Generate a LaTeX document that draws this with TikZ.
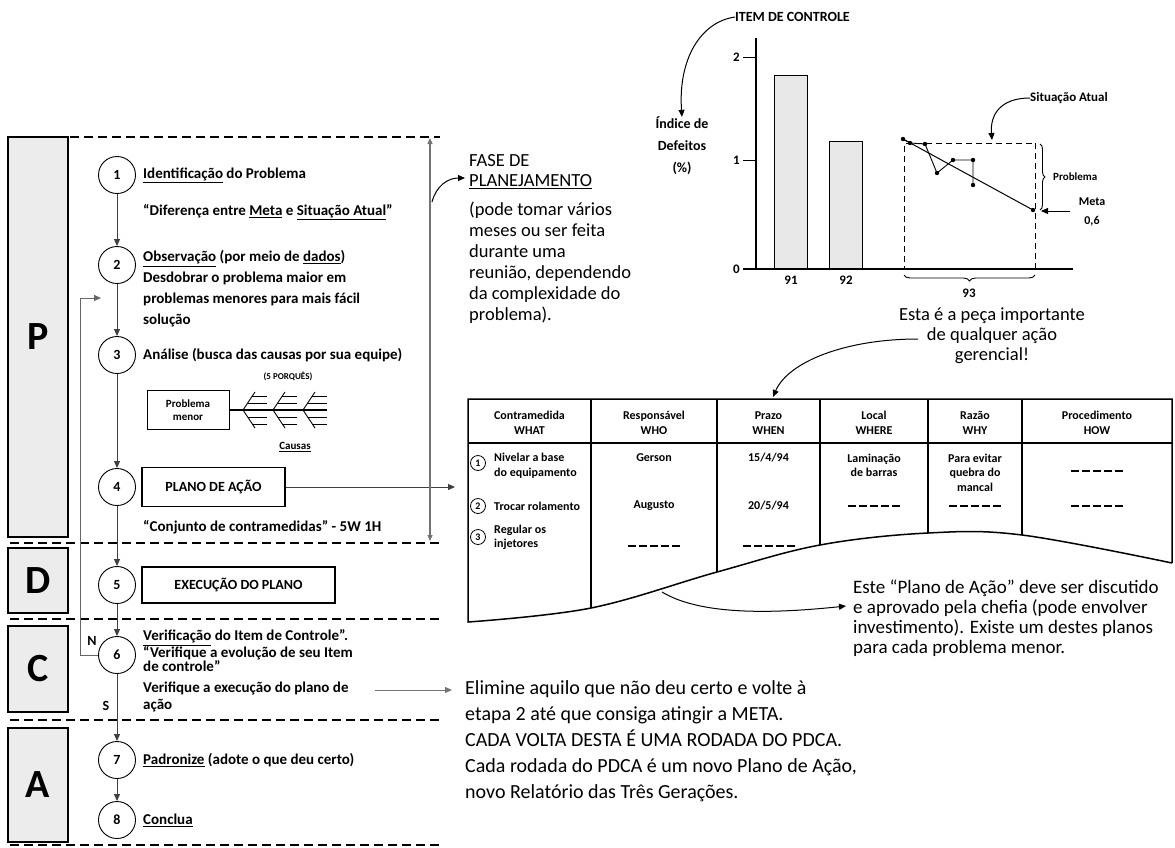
\documentclass[tikz,border=0pt]{standalone}
\usepackage{fontspec}
\setmainfont{Carlito}
\usetikzlibrary{arrows.meta,decorations.pathreplacing,positioning}

\tikzset{
  phase/.style={draw, line width=1.2pt, fill=gray!15, minimum width=60pt, inner sep=0pt,
    font=\fontsize{40}{40}\selectfont\bfseries},
  stepnum/.style={circle, draw, line width=0.9pt, minimum size=37pt, inner sep=0pt,
    fill=white, font=\fontsize{14}{14}\selectfont\bfseries},
  stepbox/.style={draw, line width=1.1pt, inner sep=0pt,
    font=\fontsize{14}{14}\selectfont\bfseries},
  steptxt/.style={anchor=west, inner sep=0pt, align=left,
    font=\fontsize{15}{21}\selectfont\bfseries},
  note/.style={anchor=west, inner sep=0pt, align=left},
  cell/.style={inner sep=0pt, align=center, font=\fontsize{12}{14.5}\selectfont\bfseries},
  rownum/.style={circle, draw, line width=0.8pt, minimum size=15pt, inner sep=0pt,
    font=\fontsize{10}{10}\selectfont\bfseries},
  chart/.style={inner sep=0pt, font=\fontsize{13}{13}\selectfont\bfseries},
  sep/.style={dash pattern=on 9pt off 5pt, line width=1.1pt},
  flow/.style={draw=black!75, line width=1pt, -{Triangle[length=7pt,width=6pt]}},
  blank/.style={dash pattern=on 8pt off 3pt, line width=1.6pt},
}

\begin{document}
\begin{tikzpicture}[x=1pt, y=-1pt]
\useasboundingbox (0,0) rectangle (1175,847);

% fases do PDCA
\node[phase, minimum height=400pt] (P) at (38,337) {P};
\node[phase, minimum height=65pt] (D) at (38,580.5) {D};
\node[phase, minimum height=86pt] (C) at (38,669) {C};
\node[phase, minimum height=114pt] (A) at (38,785) {A};
\foreach \y/\x in {137/70, 543/10, 619/10, 720/10, 845/10}
  \draw[sep] (\x,\y) -- (440,\y);

% etapas
\foreach \n/\y in {1/175, 2/265, 3/355, 4/487, 5/585, 6/655, 7/760, 8/820}
  \node[stepnum] (s\n) at (117,\y) {\n};
\foreach \a/\b in {1/2, 2/3, 3/4, 4/5, 5/6, 6/7, 7/8}
  \draw[flow] (s\a) -- (s\b);
\coordinate (loopa) at (80,655);
\coordinate (loopb) at (80,298);
\coordinate (loopc) at (101,298);
\draw[flow, draw=black!60] (s6.west) -- (loopa) -- (loopb) -- (loopc);
\node[font=\fontsize{14}{14}\selectfont\bfseries] (nlab) at (92,641) {N};
\node[font=\fontsize{14}{14}\selectfont\bfseries] (slab) at (106,706) {S};

\node[steptxt] (t1) at (143,175) {\underline{Identificação} do Problema};
\node[steptxt] (t1b) at (143,212) {“Diferença entre \underline{Meta} e \underline{Situação Atual}”};
\node[steptxt] (t2) at (143,289) {\underline{Observação} (por meio de \underline{dados})\\
  Desdobrar o problema maior em\\problemas menores para mais fácil\\solução};
\node[steptxt] (t3) at (143,355) {Análise (busca das causas por sua equipe)};
\node[font=\fontsize{9}{9}\selectfont\bfseries] (why) at (288,376) {(5 PORQUÊS)};

% espinha de peixe
\node[draw, line width=1pt, minimum width=82pt, minimum height=39pt, align=center,
  font=\fontsize{11}{13}\selectfont\bfseries] (minor) at (188,410) {Problema\\menor};
\coordinate (spine) at (327,410);
\draw[line width=1.3pt] (minor.east) -- (spine);
\foreach \x in {243,273,303} {
  \draw[line width=0.9pt] (\x+12,392) -- (\x,410) -- (\x+12,428);
  \foreach \yy/\dx in {396/9.3, 403/4.7, 417/4.7, 424/9.3}
    \draw[line width=0.9pt] (\x+\dx,\yy) -- (\x+24,\yy);
}
\node[font=\fontsize{11}{11}\selectfont\bfseries] (causes) at (295,447) {\underline{Causas}};

\node[stepbox, minimum width=143pt, minimum height=39pt] (plan) at (213.5,487) {PLANO DE AÇÃO};
\coordinate (planend) at (455,487);
\draw[flow] (plan) -- (planend);
\node[steptxt] (t4) at (143,527) {“Conjunto de contramedidas” - 5W 1H};
\node[stepbox, minimum width=193pt, minimum height=36pt] (exec) at (238.5,585) {EXECUÇÃO DO PLANO};
\node[steptxt, font=\fontsize{15}{14.5}\selectfont\bfseries] (t6) at (143,651)
  {\underline{Verificação} do Item de Controle”.\\“Verifique a evolução de seu Item\\de controle”};
\node[steptxt, font=\fontsize{15}{17}\selectfont\bfseries] (t6b) at (143,697)
  {Verifique a execução do plano de\\ação};
\coordinate (chka) at (375,690);
\coordinate (chkb) at (452,690);
\draw[flow, draw=black!55] (chka) -- (chkb);
\node[steptxt] (t7) at (143,760) {\underline{Padronize} (adote o que deu certo)};
\node[steptxt] (t8) at (143,820) {\underline{Conclua}};

% fase de planejamento
\coordinate (ptop) at (430,138);
\coordinate (pbot) at (430,541);
\draw[draw=black!55, line width=1.2pt,
  {Triangle[length=6pt,width=5pt]}-{Triangle[length=6pt,width=5pt]}] (ptop) -- (pbot);
\node[note, font=\fontsize{18.5}{20}\selectfont] (fase) at (469,172) {FASE DE\\\underline{PLANEJAMENTO}};
\node[note, font=\fontsize{18.5}{21}\selectfont] (fasetxt) at (469,262.5)
  {(pode tomar vários\\meses ou ser feita\\durante uma\\reunião, dependendo\\da complexidade do\\problema).};
\coordinate (pmid) at (432,202);
\coordinate (faseend) at (465,178);
\draw[flow, draw=black] (pmid) .. controls (436,186) and (448,178) .. (faseend);

% grafico do item de controle
\node[draw, dash pattern=on 6pt off 4pt, line width=1.1pt, minimum width=131pt,
  minimum height=125pt, anchor=south west] (cur) at (904,269) {};
\node[draw, line width=1.1pt, fill=gray!18, minimum width=33pt, minimum height=193pt,
  anchor=south west] (bar91) at (774,269) {};
\node[draw, line width=1.1pt, fill=gray!18, minimum width=33pt, minimum height=127pt,
  anchor=south west] (bar92) at (829,269) {};
\draw[line width=1.2pt] (756,38) -- (756,269);
\draw[line width=1.2pt] (743,269) -- (1073,269);
\foreach \v/\y in {0/269, 1/160, 2/57} {
  \draw[line width=1pt] (743,\y) -- (756,\y);
  \node[chart, anchor=east] (tick\v) at (740,\y) {\v};
}
\node[chart, below=7pt of bar91] (l91) {91};
\node[chart, below=7pt of bar92] (l92) {92};
\draw[decorate, decoration={brace, amplitude=6pt}, line width=0.9pt] (1035,275) -- (904,275);
\node[chart] (l93) at (969,293) {93};
\draw[line width=1pt] (903,139) -- (1033,210);
\draw[line width=0.9pt] (903,139) -- (910,143) -- (925,144) -- (937,173) -- (953,160)
  -- (973,160) -- (973,185);
\foreach \p in {(903,139),(910,143),(925,144),(937,173),(953,160),(973,160),(973,185),(1033,210)}
  \fill \p circle (2.2pt);
\draw[decorate, decoration={brace, amplitude=5pt}, line width=0.9pt] (1040,144) -- (1040,210);
\node[chart, anchor=west, font=\fontsize{11}{11}\selectfont\bfseries] (prob) at (1053,177) {Problema};
\coordinate (metaa) at (1070,211);
\coordinate (metab) at (1041,211);
\draw[flow, draw=black] (metaa) -- (metab);
\node[chart, align=center, font=\fontsize{12}{19}\selectfont\bfseries] (meta) at (1092,212) {Meta\\0,6};
\node[chart, anchor=west] (sit) at (1030,98) {Situação Atual};
\coordinate (curtop) at (992,140);
\draw[flow, draw=black] (sit.west) .. controls (1000,98) and (990,115) .. (curtop);
\node[chart, anchor=west, font=\fontsize{14}{14}\selectfont\bfseries] (item) at (735,17) {ITEM DE CONTROLE};
\node[chart, align=center, font=\fontsize{14}{22}\selectfont\bfseries] (idx) at (682,146)
  {Índice de\\Defeitos\\(\%)};
\draw[flow, draw=black] (item.west) .. controls (700,22) and (678,60) .. (idx.north);

% plano de acao (5W 1H)
\node[note, anchor=center, align=center, font=\fontsize{18.5}{20}\selectfont] (key) at (992,336)
  {Esta é a peça importante\\de qualquer ação\\gerencial!};
\coordinate (keyst) at (918,339);
\coordinate (keyend) at (773,397);
\draw[flow, draw=black] (keyst) .. controls (845,339) and (788,362) .. (keyend);

\draw[line width=1.5pt] (1172,563) -- (1172,399) -- (468,399) -- (468,622)
  -- plot[smooth, tension=0.6] coordinates {(468,622) (591,608) (717,572) (820,545) (928,533) (1022,535) (1172,563)};
\begin{scope}
  \clip (468,399) -- plot[smooth, tension=0.6] coordinates {(468,622) (591,608) (717,572) (820,545) (928,533) (1022,535) (1172,563)} -- (1172,399) -- cycle;
  \foreach \x in {591,717,820,928,1022}
    \draw[line width=1.5pt] (\x,399) -- (\x,640);
\end{scope}
\draw[line width=1.5pt] (468,443) -- (1172,443);
\foreach \x/\a/\b [count=\i] in {529.5/Contramedida/WHAT, 654/Responsável/WHO, 768.5/Prazo/WHEN,
  874/Local/WHERE, 975/Razão/WHY, 1097/Procedimento/HOW}
  \node[cell] (h\i) at (\x,423) {\a\\\b};
\foreach \n/\y in {1/463, 2/506, 3/537}
  \node[rownum] (r\n) at (478,\y) {\n};
\node[cell, anchor=west, align=left] (w1) at (494,465.5) {Nivelar a base\\do equipamento};
\node[cell, anchor=west, align=left] (w2) at (494,506) {Trocar rolamento};
\node[cell, anchor=west, align=left] (w3) at (494,537.5) {Regular os\\injetores};
\node[cell] (who1) at (654,458) {Gerson};
\node[cell] (who2) at (654,506) {Augusto};
\node[cell] (when1) at (768.5,458) {15/4/94};
\node[cell] (when2) at (768.5,506) {20/5/94};
\node[cell] (where1) at (874,465.5) {Laminação\\de barras};
\node[cell] (why1) at (975,472.5) {Para evitar\\quebra do\\mancal};
\foreach \x/\y in {1097/471, 874/506, 975/506, 1097/506, 654/546, 768.5/546}
  \draw[blank] (\x-26,\y) -- (\x+26,\y);

\node[note, font=\fontsize{19}{20}\selectfont] (disc) at (853,618)
  {Este “Plano de Ação” deve ser discutido\\e aprovado pela chefia (pode envolver\\investimento). Existe um destes planos\\para cada problema menor.};
\coordinate (wavept) at (662,592);
\coordinate (discend) at (846,606);
\draw[flow, draw=black] (wavept) .. controls (700,615) and (770,614) .. (discend);

\node[note, font=\fontsize{20}{26}\selectfont] (redo) at (465,741)
  {Elimine aquilo que não deu certo e volte à\\etapa 2 até que consiga atingir a META.\\
   CADA VOLTA DESTA É UMA RODADA DO PDCA.\\Cada rodada do PDCA é um novo Plano de Ação,\\novo Relatório das Três Gerações.};
\end{tikzpicture}
\end{document}
